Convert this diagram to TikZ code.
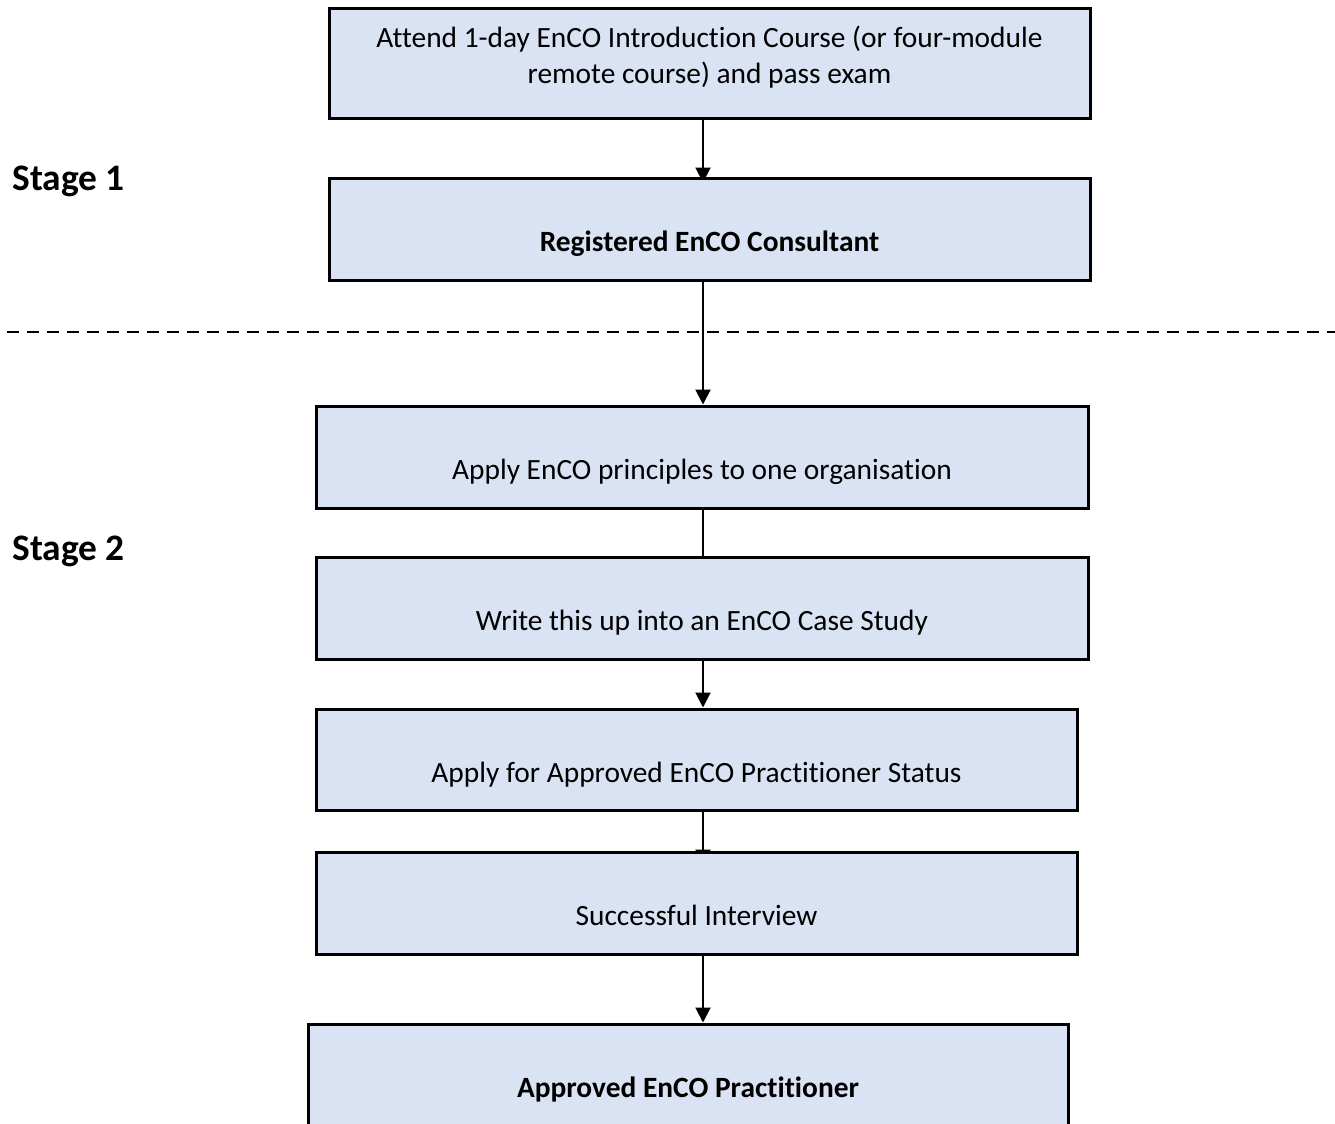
\documentclass[tikz,border=0pt]{standalone}
\usepackage{fontspec}
\setmainfont{Carlito}[Ligatures=NoCommon]
\usepackage{xcolor}
\usetikzlibrary{arrows.meta,calc,backgrounds}
\definecolor{boxblue}{HTML}{DAE3F3}

\begin{document}
\begin{tikzpicture}[x=0.5pt,y=-0.5pt,
    stepbox/.style={draw=black,line width=1.5pt,fill=boxblue,inner sep=0pt,font=\fontsize{14.7pt}{17.8pt}\selectfont},
    lowtext/.style={text height=22.5pt,text depth=0pt},
    link/.style={line width=1pt},
    arrow/.style={link,-{Triangle[width=7.5pt,length=7.5pt]}},
    stagelabel/.style={anchor=base west,inner sep=0pt,font=\fontsize{18.7pt}{22pt}\selectfont\bfseries}]
    \useasboundingbox (0,0) rectangle (1335,1124);

    % Stage 1
    \node[stepbox,minimum width=380.5pt,minimum height=55pt,align=center] (course) at (709.5,63) {Attend 1-day EnCO Introduction Course (or four-module\\remote course) and pass exam\rule[-8pt]{0pt}{0pt}};
    \node[stepbox,lowtext,minimum width=380.5pt,minimum height=51pt] (consultant) at (709.5,229) {\textbf{Registered EnCO Consultant}};

    % Stage 2
    \node[stepbox,lowtext,minimum width=386pt,minimum height=51pt] (apply) at (702,457) {Apply EnCO principles to one organisation};
    \node[stepbox,lowtext,minimum width=386pt,minimum height=51pt] (casestudy) at (702,608) {Write this up into an EnCO Case Study};
    \node[stepbox,lowtext,minimum width=380.5pt,minimum height=50.5pt] (status) at (696.5,759.5) {Apply for Approved EnCO Practitioner Status};
    \node[stepbox,lowtext,minimum width=380.5pt,minimum height=51pt] (interview) at (696.5,903) {Successful Interview};
    \node[stepbox,lowtext,minimum width=380pt,minimum height=51pt] (practitioner) at (688,1075) {\textbf{Approved EnCO Practitioner}};

    % Labels
    \node[stagelabel] (stage1) at (12,190) {Stage 1};
    \node[stagelabel] (stage2) at (12,560) {Stage 2};

    % Divider
    \coordinate (divleft) at (7,332);
    \coordinate (divright) at (1335,332);
    \draw[line width=1pt,dash pattern=on 6pt off 4pt] (divleft) -- (divright);

    % Arrows
    \coordinate (spine) at (703,0);
    \begin{scope}[on background layer]
        \draw[arrow] (course.south -| spine) -- ($(consultant.north -| spine)+(0,6)$);
        \draw[arrow] (consultant.south -| spine) -- (apply.north -| spine);
        \draw[link] (apply.south -| spine) -- (casestudy.north -| spine);
        \draw[arrow] (casestudy.south -| spine) -- (status.north -| spine);
        \draw[arrow] (status.south -| spine) -- ($(interview.north -| spine)+(0,14)$);
        \draw[arrow] (interview.south -| spine) -- (practitioner.north -| spine);
    \end{scope}
\end{tikzpicture}
\end{document}
